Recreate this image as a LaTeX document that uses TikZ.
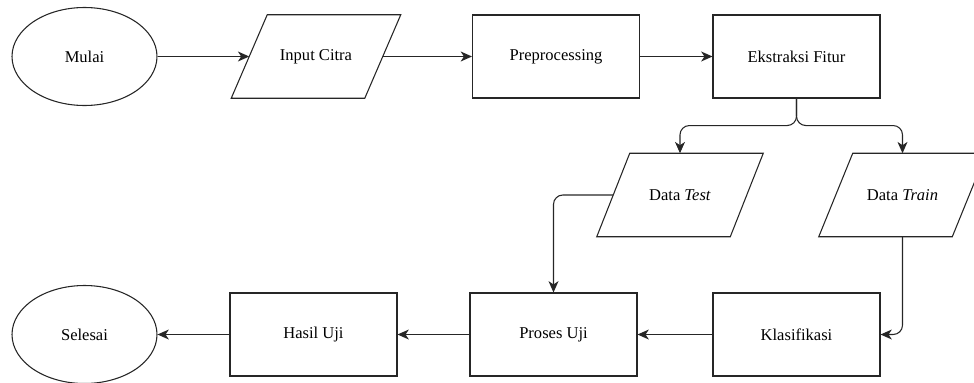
\documentclass[tikz,border=0pt]{standalone}
\usepackage{fontspec}
\setmainfont{Liberation Serif}
\usetikzlibrary{arrows.meta,shapes.geometric,calc}
\newcommand\paradraw[2]{\draw[shapeline] ($(#1.south west)+(-#2,0)$) -- ($(#1.north west)+(#2,0)$) -- ($(#1.north east)+(#2,0)$) -- ($(#1.south east)+(-#2,0)$) -- cycle;}
\begin{document}
\begin{tikzpicture}[x=0.75pt,y=-0.75pt,
  font=\fontsize{12.4}{14}\selectfont,
  shapeline/.style={draw=black!85, line width=0.8pt},
  box/.style={shapeline, rectangle, minimum width=125.25pt, minimum height=62.25pt, inner sep=0pt},
  term/.style={shapeline, ellipse, minimum width=108.75pt, minimum height=73.5pt, inner sep=0pt},
  iobody/.style={rectangle, minimum width=99.75pt, minimum height=62.25pt, inner sep=0pt},
  arr/.style={draw=black!85, line width=0.8pt, -{Stealth[length=8.5pt,width=7.5pt,inset=2.5pt]}},
  roundbend/.style={rounded corners=7pt}]
\useasboundingbox (0,0) rectangle (974,382);
\clip (0,0) rectangle (974,382);
% top row
\node[term] (mulai) at (84.5,56.5) {Mulai};
\node[iobody] (incitra) at (316,56.5) {Input Citra};
\paradraw{incitra}{18}
\node[box] (prep) at (556,56.5) {Preprocessing};
\node[box] (ekstr) at (796.5,56.5) {Ekstraksi Fitur};
% middle row
\node[iobody] (dtest) at (680,195) {Data \textit{Test}};
\paradraw{dtest}{16.5}
\node[iobody] (dtrain) at (902.5,195) {Data \textit{Train}};
\paradraw{dtrain}{17}
% bottom row
\node[term] (selesai) at (84.5,334.5) {Selesai};
\node[box] (hasil) at (313.5,334.5) {Hasil Uji};
\node[box] (proses) at (553.5,334.5) {Proses Uji};
\node[box] (klas) at (796.5,334.5) {Klasifikasi};
% connectors
\draw[arr] (mulai.east) -- (incitra.west);
\draw[arr] (incitra.east) -- (prep.west);
\draw[arr] (prep.east) -- (ekstr.west);
\draw[arr,roundbend] (ekstr.south) -- ++(0,27) -| (dtest.north);
\draw[arr,roundbend] (ekstr.south) -- ++(0,27) -| (dtrain.north);
\draw[arr,roundbend] (dtest.west) -| (proses.north);
\draw[arr,roundbend] (dtrain.south) |- (klas.east);
\draw[arr] (klas.west) -- (proses.east);
\draw[arr] (proses.west) -- (hasil.east);
\draw[arr] (hasil.west) -- (selesai.east);
\end{tikzpicture}
\end{document}
